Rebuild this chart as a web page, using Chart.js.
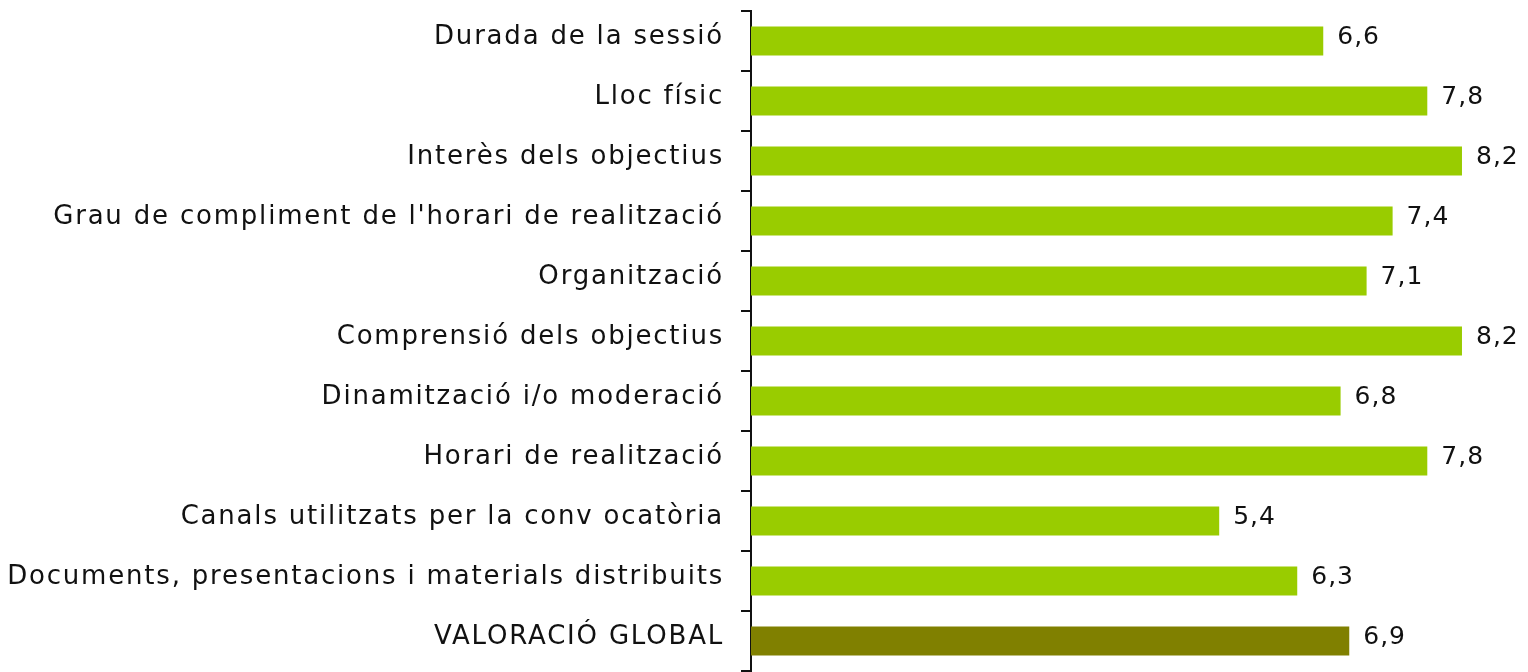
<!DOCTYPE html>
<html>
<head>
<meta charset="utf-8">
<script src="https://cdn.jsdelivr.net/npm/chart.js@4/dist/chart.umd.min.js"></script>
<style>
  html, body { margin: 0; padding: 0; background: #fff; }
  #wrap { width: 1528px; height: 672px; position: relative; }
</style>
</head>
<body>
<div id="wrap"><canvas id="chart"></canvas></div>
<script>
// categories, top to bottom as in the picture
const categories = [
    "Durada de la sessió",
    "Lloc físic",
    "Interès dels objectius",
    "Grau de compliment de l'horari de realització",
    "Organització",
    "Comprensió dels objectius",
    "Dinamització i/o moderació",
    "Horari de realització",
    "Canals utilitzats per la conv ocatòria",
    "Documents, presentacions i materials distribuits",
    "VALORACIÓ GLOBAL"
];
const scores = [6.6, 7.8, 8.2, 7.4, 7.1, 8.2, 6.8, 7.8, 5.4, 6.3, 6.9];
const barColors = ['#99CC00', '#99CC00', '#99CC00', '#99CC00', '#99CC00', '#99CC00',
                   '#99CC00', '#99CC00', '#99CC00', '#99CC00', '#808000'];

const FONT = '"DejaVu Sans", sans-serif';
const TEXT = '#111111';
const SPACING = '1.8px';

// wider letter spacing, closer to the original geometric font
const spacing = {
    id: 'spacing',
    beforeLayout(chart) { chart.ctx.letterSpacing = SPACING; },
    beforeDraw(chart) { chart.ctx.letterSpacing = SPACING; }
};

// value labels at the end of each bar, comma as decimal mark
const valueLabels = {
    id: 'valueLabels',
    afterDatasetsDraw(chart) {
        const ctx = chart.ctx;
        const meta = chart.getDatasetMeta(0);
        ctx.save();
        ctx.letterSpacing = '1px';
        ctx.font = '25px ' + FONT;
        ctx.fillStyle = TEXT;
        ctx.textAlign = 'left';
        ctx.textBaseline = 'middle';
        meta.data.forEach((bar, i) => {
            ctx.fillText(scores[i].toFixed(1).replace('.', ','), bar.x + 14, bar.y - 4);
        });
        ctx.restore();
    }
};

new Chart(document.getElementById('chart'), {
    type: 'bar',
    data: {
        labels: categories,
        datasets: [{
            data: scores,
            backgroundColor: barColors,
            borderWidth: 0,
            barPercentage: 0.8,
            categoryPercentage: 0.6
        }]
    },
    options: {
        indexAxis: 'y',
        responsive: true,
        maintainAspectRatio: false,
        animation: false,
        layout: { padding: { top: 11, bottom: 1, right: 14, left: 0 } },
        plugins: {
            legend: { display: false },
            tooltip: { enabled: false }
        },
        scales: {
            x: {
                display: false,
                min: 0,
                max: 8.8
            },
            y: {
                afterFit(scale) {
                    scale.width = 751;
                    scale.paddingTop = 0;
                    scale.paddingBottom = 0;
                },
                grid: {
                    offset: true,
                    drawOnChartArea: false,
                    drawTicks: true,
                    tickLength: 10,
                    color: '#111111',
                    lineWidth: 2
                },
                border: { display: true, color: '#111111', width: 2 },
                ticks: {
                    padding: 17,
                    labelOffset: -4,
                    color: TEXT,
                    font: { family: FONT, size: 26 }
                }
            }
        }
    },
    plugins: [spacing, valueLabels]
});
</script>
</body>
</html>
